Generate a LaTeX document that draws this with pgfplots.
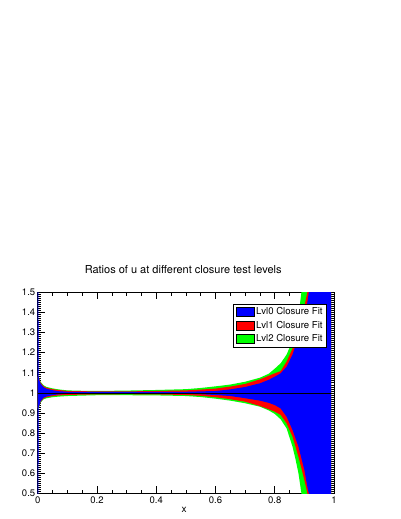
\documentclass[border=0pt]{standalone}
\usepackage{fontspec}
\setmainfont{TeX Gyre Heros}
\usepackage{pgfplots}
\pgfplotsset{compat=1.18}

\definecolor{rootblue}{RGB}{0,0,255}
\definecolor{rootred}{RGB}{255,0,0}
\definecolor{rootgreen}{RGB}{0,255,0}

\begin{document}
\begin{tikzpicture}
\fill[white] (0,0) rectangle (401bp,519bp);
\useasboundingbox (0,0) rectangle (401bp,519bp);
\begin{axis}[
    at={(37.7bp,25.7bp)}, anchor=south west,
    scale only axis,
    width=296.3bp, height=201bp,
    xmin=0, xmax=1, ymin=0.5, ymax=1.5,
    xtick={0,0.2,0.4,0.6,0.8,1},
    xticklabels={0,0.2,0.4,0.6,0.8,1},
    ytick={0.5,0.6,0.7,0.8,0.9,1,1.1,1.2,1.3,1.4,1.5},
    yticklabels={0.5,0.6,0.7,0.8,0.9,1,1.1,1.2,1.3,1.4,1.5},
    minor x tick num=3,
    minor y tick num=9,
    tick align=inside,
    xtick pos=both, ytick pos=both,
    major tick length=7bp,
    minor tick length=3.5bp,
    axis line style={line width=0.8bp},
    every tick/.style={black, line width=0.5bp},
    tick label style={font=\fontsize{9.5bp}{11bp}\selectfont},
    yticklabel style={xshift=1bp},
    title={Ratios of u at different closure test levels},
    title style={font=\fontsize{11bp}{13bp}\selectfont, at={(0.491,1)},
                 anchor=center, yshift=16.6bp},
    xlabel={x},
    xlabel style={font=\fontsize{10bp}{12bp}\selectfont, at={(0.494,0)},
                  anchor=center, yshift=-17bp},
    legend style={at={(0.976,0.942)}, anchor=north east, draw=black,
                  line width=0.6bp, fill=white,
                  font=\fontsize{9.6bp}{11bp}\selectfont,
                  inner xsep=2bp, inner ysep=1.5bp, row sep=0.8bp},
    legend cell align=left,
    legend image code/.code={%
        \draw[#1, draw=black, line width=0.5bp] (0bp,-4.5bp) rectangle (18bp,4.5bp);},
]
\addlegendimage{fill=rootblue}
\addlegendentry{Lvl0 Closure Fit}
\addlegendimage{fill=rootred}
\addlegendentry{Lvl1 Closure Fit}
\addlegendimage{fill=rootgreen}
\addlegendentry{Lvl2 Closure Fit}

% each band: upper edge left to right, then lower edge right to left
% Lvl2 (widest, at the back)
\addplot[fill=rootgreen, draw=none, forget plot] coordinates {
(0,1.08) (0.003,1.08) (0.006,1.068) (0.01,1.054) (0.02,1.037) (0.03,1.029)
(0.05,1.022) (0.07,1.017) (0.1,1.012) (0.15,1.010) (0.2,1.009) (0.3,1.011)
(0.4,1.014) (0.5,1.018) (0.55,1.024) (0.6,1.032) (0.65,1.041) (0.7,1.055)
(0.75,1.075) (0.78,1.095) (0.8,1.120) (0.82,1.147) (0.84,1.190) (0.86,1.260)
(0.87,1.310) (0.88,1.380) (0.89,1.500) (0.9,1.620) (0.92,1.900) (0.99,2.0)
(0.99,0.0) (0.92,0.200) (0.9,0.400) (0.89,0.500) (0.88,0.600) (0.87,0.670)
(0.86,0.732) (0.84,0.823) (0.82,0.868) (0.8,0.895) (0.78,0.912) (0.75,0.931)
(0.7,0.948) (0.65,0.961) (0.6,0.971) (0.55,0.979) (0.5,0.984) (0.4,0.987)
(0.3,0.988) (0.2,0.988) (0.15,0.986) (0.1,0.984) (0.07,0.981) (0.05,0.978)
(0.03,0.973) (0.02,0.968) (0.01,0.952) (0.006,0.935) (0.003,0.922) (0,0.922)
} -- cycle;

% Lvl1
\addplot[fill=rootred, draw=none, forget plot] coordinates {
(0,1.08) (0.003,1.08) (0.006,1.065) (0.01,1.050) (0.02,1.033) (0.03,1.025)
(0.05,1.018) (0.07,1.014) (0.1,1.009) (0.15,1.008) (0.2,1.007) (0.3,1.007)
(0.4,1.009) (0.5,1.012) (0.55,1.016) (0.6,1.021) (0.65,1.031) (0.7,1.044)
(0.75,1.067) (0.78,1.085) (0.8,1.097) (0.82,1.108) (0.84,1.155) (0.86,1.220)
(0.88,1.310) (0.9,1.430) (0.91,1.500) (0.92,1.580) (0.94,1.900) (0.99,2.0)
(0.99,0.0) (0.94,0.200) (0.92,0.430) (0.91,0.500) (0.9,0.566) (0.88,0.682)
(0.86,0.782) (0.84,0.848) (0.82,0.890) (0.8,0.906) (0.78,0.918) (0.75,0.934)
(0.7,0.956) (0.65,0.968) (0.6,0.978) (0.55,0.985) (0.5,0.989) (0.4,0.992)
(0.3,0.993) (0.2,0.992) (0.15,0.991) (0.1,0.989) (0.07,0.987) (0.05,0.983)
(0.03,0.978) (0.02,0.972) (0.01,0.955) (0.006,0.938) (0.003,0.925) (0,0.925)
} -- cycle;

% Lvl0 (in front)
\addplot[fill=rootblue, draw=none, forget plot] coordinates {
(0,2.0) (0.002,2.0) (0.003,1.080) (0.006,1.060) (0.01,1.045) (0.02,1.028)
(0.03,1.020) (0.05,1.013) (0.07,1.008) (0.1,1.005) (0.2,1.004) (0.3,1.004)
(0.4,1.005) (0.5,1.005) (0.55,1.007) (0.6,1.009) (0.65,1.017) (0.7,1.029)
(0.75,1.047) (0.78,1.065) (0.8,1.080) (0.82,1.097) (0.84,1.130) (0.86,1.190)
(0.88,1.280) (0.9,1.380) (0.91,1.450) (0.915,1.500) (0.93,1.700) (0.95,2.0)
(0.99,2.0)
(0.99,0.0) (0.95,0.0) (0.93,0.300) (0.915,0.500) (0.91,0.533) (0.9,0.616)
(0.88,0.732) (0.86,0.815) (0.84,0.881) (0.82,0.922) (0.8,0.939) (0.78,0.950)
(0.75,0.961) (0.7,0.973) (0.65,0.984) (0.6,0.989) (0.55,0.993) (0.5,0.995)
(0.4,0.996) (0.3,0.996) (0.2,0.996) (0.1,0.995) (0.07,0.992) (0.05,0.988)
(0.03,0.982) (0.02,0.976) (0.01,0.958) (0.006,0.940) (0.003,0.925) (0.002,0.0)
(0,0.0)
} -- cycle;

% reference line at ratio 1
\addplot[black, line width=0.4bp, forget plot] coordinates {(0,1) (1,1)};
\end{axis}
\end{tikzpicture}
\end{document}
